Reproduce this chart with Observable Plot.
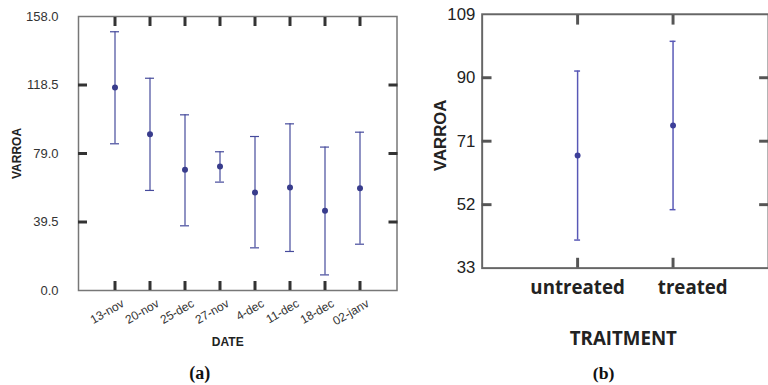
<!DOCTYPE html>
<html>
<head>
<meta charset="utf-8">
<script src="https://cdn.jsdelivr.net/npm/d3@7"></script>
<script src="https://cdn.jsdelivr.net/npm/@observablehq/plot@0.6"></script>
<style>
  html, body { margin: 0; padding: 0; background: white; overflow: hidden; }
  #wrap { position: relative; width: 768px; height: 385px; overflow: hidden; background: white; }
  #pa { position: absolute; left: 0; top: 0; }
  #pb { position: absolute; left: 400px; top: 0; }
</style>
</head>
<body>
<div id="wrap"><div id="pa"></div><div id="pb"></div></div>
<script>
// Panel (a)
const datesA = ["13-nov", "20-nov", "25-dec", "27-nov", "4-dec", "11-dec", "18-dec", "02-janv"];
const meanA  = [117.1, 90.1, 69.6, 71.5, 56.5, 59.4, 46.0, 59.0];
const upperA = [149.2, 122.4, 101.3, 80.0, 88.8, 96.1, 82.7, 91.3];
const lowerA = [84.6, 57.7, 37.3, 62.5, 24.6, 22.5, 9.0, 26.7];
const yTicksA = [0, 39.5, 79, 118.5, 158];

// Panel (b)
const groupsB = ["untreated", "treated"];
const meanB  = [66.7, 75.7];
const upperB = [92.0, 100.9];
const lowerB = [41.4, 50.5];
const yTicksB = [33, 52, 71, 90, 109];

const rowsA = datesA.map((d, i) => ({date: d, mean: meanA[i], hi: upperA[i], lo: lowerA[i]}));
const rowsB = groupsB.map((g, i) => ({group: g, mean: meanB[i], hi: upperB[i], lo: lowerB[i]}));

const blueA = "#464b9c";
const dotA = "#383c8c";
const blueB = "#5858b6";
const dotB = "#3d3f99";
const blank = () => "";

// band padding so that band centres sit one step in from each frame edge
function bandPad(frameW, n, capW) {
  const step = frameW / (n + 1);
  const pi = 1 - capW / step;
  return {paddingInner: pi, paddingOuter: (1 + pi) / 2};
}

// inward tick marks on all four sides (axis marks shifted inside the frame)
function inwardTicks(xDomain, yTicks, len, tickColor, sw) {
  return [
    Plot.axisY({anchor: "left", ticks: yTicks, tickSize: len, dx: len, tickFormat: blank, label: null, stroke: tickColor, strokeWidth: sw}),
    Plot.axisY({anchor: "right", ticks: yTicks, tickSize: len, dx: -len, tickFormat: blank, label: null, stroke: tickColor, strokeWidth: sw}),
    Plot.axisX({anchor: "top", ticks: xDomain, tickSize: len, dy: len, tickFormat: blank, label: null, stroke: tickColor, strokeWidth: sw}),
    Plot.axisX({anchor: "bottom", ticks: xDomain, tickSize: len, dy: -len, tickFormat: blank, label: null, stroke: tickColor, strokeWidth: sw})
  ];
}

// Panel (a) geometry
const WA = 397, HA = 385, mlA = 78, mrA = 0.5, mtA = 16, mbA = 95;
const fwA = WA - mlA - mrA;
const padA = bandPad(fwA, datesA.length, 9);

const plotA = Plot.plot({
  width: WA, height: HA,
  marginLeft: mlA, marginRight: mrA, marginTop: mtA, marginBottom: mbA,
  x: {type: "band", domain: datesA, ...padA},
  y: {domain: [0, 158]},
  style: {background: "white", color: "#333", fontFamily: "'Liberation Sans', Arial, sans-serif", overflow: "visible"},
  marks: [
    Plot.frame({stroke: "#777", strokeWidth: 1.5}),
    ...inwardTicks(datesA, yTicksA.slice(1, -1), 9, "#333333", 3),
    Plot.axisY({ticks: yTicksA, tickFormat: d3.format(".1f"), tickSize: 0, tickPadding: 20, fontSize: 13, label: null}),
    Plot.axisX({tickSize: 0, tickRotate: -30, tickPadding: 12, fontSize: 12, label: null, textAnchor: "end", lineAnchor: "middle", dx: 8}),
    Plot.ruleX(rowsA, {x: "date", y1: "lo", y2: "hi", stroke: blueA, strokeWidth: 1.2}),
    Plot.tickY(rowsA, {x: "date", y: "hi", stroke: blueA, strokeWidth: 1.2}),
    Plot.tickY(rowsA, {x: "date", y: "lo", stroke: blueA, strokeWidth: 1.2}),
    Plot.dot(rowsA, {x: "date", y: "mean", r: 3, fill: dotA, stroke: "none"}),
    Plot.text(["VARROA"], {text: d => d, frameAnchor: "left", textAnchor: "middle", lineAnchor: "middle", dx: -61, rotate: -90, fontWeight: "bold", fontSize: 12, fill: "#222"}),
    Plot.text(["DATE"], {text: d => d, frameAnchor: "bottom", textAnchor: "middle", lineAnchor: "middle", dy: 52, dx: -10, fontWeight: "bold", fontSize: 12, fill: "#222"}),
    Plot.text(["(a)"], {text: d => d, frameAnchor: "bottom", textAnchor: "middle", lineAnchor: "middle", dy: 83, dx: -38, fontWeight: "bold", fontFamily: "'Liberation Serif', 'DejaVu Serif', serif", fontSize: 18, fill: "#111"})
  ]
});
document.getElementById("pa").appendChild(plotA);

// Panel (b) geometry
const WB = 374, HB = 385, mlB = 83, mrB = 0, mtB = 14, mbB = 113;
const fwB = WB - mlB - mrB;
const padB = bandPad(fwB, groupsB.length, 6);

const plotB = Plot.plot({
  width: WB, height: HB,
  marginLeft: mlB, marginRight: mrB, marginTop: mtB, marginBottom: mbB,
  x: {type: "band", domain: groupsB, ...padB},
  y: {domain: [33, 109]},
  style: {background: "white", color: "#222", fontFamily: "'Liberation Sans', Arial, sans-serif", overflow: "visible"},
  marks: [
    Plot.frame({stroke: "#666", strokeWidth: 2}),
    ...inwardTicks(groupsB, yTicksB.slice(1, -1), 10, "#555555", 3),
    Plot.axisY({ticks: yTicksB, tickSize: 0, tickPadding: 7, fontSize: 17, label: null}),
    Plot.axisX({ticks: ["untreated"], tickSize: 0, tickPadding: 20, lineAnchor: "middle", fontSize: 19, fontWeight: "bold", fontFamily: "'Open Sans', sans-serif", label: null}),
    Plot.axisX({ticks: ["treated"], tickSize: 0, tickPadding: 20, lineAnchor: "middle", dx: 20, fontSize: 19, fontWeight: "bold", fontFamily: "'Open Sans', sans-serif", label: null}),
    Plot.ruleX(rowsB, {x: "group", y1: "lo", y2: "hi", stroke: blueB, strokeWidth: 1.5}),
    Plot.tickY(rowsB, {x: "group", y: "hi", stroke: blueB, strokeWidth: 1.5}),
    Plot.tickY(rowsB, {x: "group", y: "lo", stroke: blueB, strokeWidth: 1.5}),
    Plot.dot(rowsB, {x: "group", y: "mean", r: 3, fill: dotB, stroke: "none"}),
    Plot.text(["VARROA"], {text: d => d, frameAnchor: "left", textAnchor: "middle", lineAnchor: "middle", dx: -42, dy: -6, rotate: -90, fontWeight: "bold", fontSize: 17, fill: "#222"}),
    Plot.text(["TRAITMENT"], {text: d => d, frameAnchor: "bottom", textAnchor: "middle", lineAnchor: "middle", dy: 72, dx: -2, fontWeight: "bold", fontSize: 19, fontFamily: "'Open Sans', sans-serif", fill: "#222"}),
    Plot.text(["(b)"], {text: d => d, frameAnchor: "bottom", textAnchor: "middle", lineAnchor: "middle", dy: 107, dx: -22, fontWeight: "bold", fontFamily: "'Liberation Serif', 'DejaVu Serif', serif", fontSize: 18, fill: "#111"})
  ]
});
document.getElementById("pb").appendChild(plotB);
</script>
</body>
</html>
